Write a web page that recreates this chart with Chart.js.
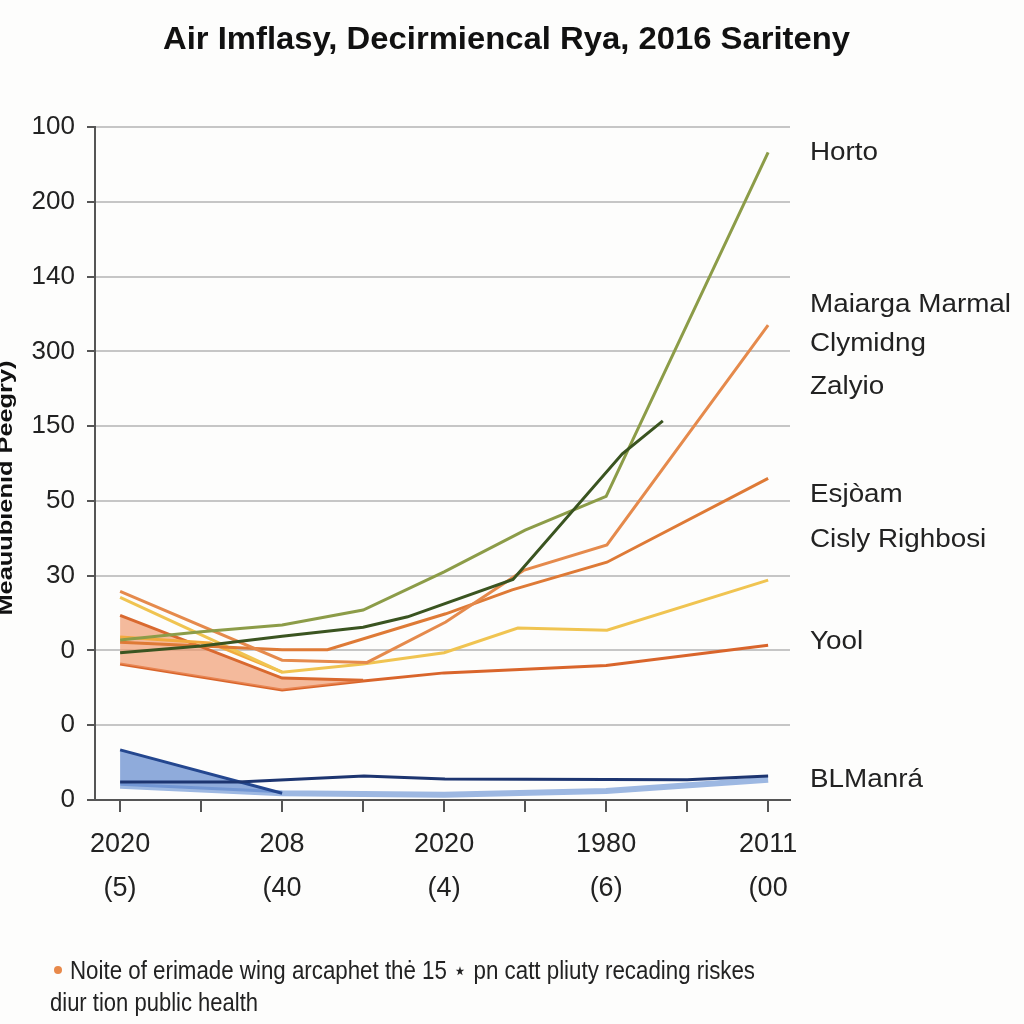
<!DOCTYPE html>
<html><head><meta charset="utf-8">
<script src="https://cdn.jsdelivr.net/npm/chart.js@4"></script>
<style>html,body{margin:0;padding:0;background:#fdfdfc;} canvas{display:block}</style>
</head><body>
<canvas id="c" width="1024" height="1024"></canvas>
<script>
const titleText = "Air Imflasy, Decirmiencal Rya, 2016 Sariteny";
const yAxisTitle = "Meauubienid Peegry)";
const yTickLabels = ["0","0","0","30","50","150","300","140","200","100"];
const xTickTop = ["2020","","208","","2020","","1980","","2011"];
const xTickBottom = ["(5)","","(40","","(4)","","(6)","","(00"];
const seriesNames = ["Horto","Maiarga Marmal","Clymidng","Zalyio","Esjòam","Cisly Righbosi","Yool","BLManrá"];
const nameLevels = [8.66,6.62,6.1,5.52,4.08,3.48,2.11,0.27];
const footLine1 = "Noite of erimade wing arcaphet thė 15 \u22c6 pn catt pliuty recading riskes";
const footLine2 = "diur tion public health";

const hortoX = [0,1,2,3,4,5,6,8];
const hortoY = [2.14,2.25,2.34,2.54,3.05,3.61,4.06,8.66];
const darkGreenX = [0,1,2,3,3.55,4.85,6.2,6.7];
const darkGreenY = [1.97,2.06,2.19,2.31,2.45,2.95,4.63,5.07];
const orangeAX = [0,2,3.05,4.02,4.98,6.01,8];
const orangeAY = [2.79,1.87,1.84,2.38,3.07,3.41,6.35];
const orangeBX = [0,1,2,2.56,4.02,4.84,6.01,8];
const orangeBY = [2.11,2.06,2.01,2.01,2.49,2.81,3.18,4.30];
const yellowX = [0,2,3,4,4.91,6.01,8];
const yellowY = [2.71,1.71,1.82,1.97,2.30,2.27,2.94];
const lightOrangeX = [0,1.11,2];
const lightOrangeY = [2.18,2.10,1.71];
const redUpperX = [0,2,3];
const redUpperY = [2.47,1.63,1.60];
const redLowerX = [0,2,3,4,6,8];
const redLowerY = [1.82,1.47,1.59,1.70,1.80,2.07];
const navyX = [0,1.46,3.01,4.01,7,8];
const navyY = [0.24,0.24,0.32,0.28,0.27,0.32];
const diagX = [0,2];
const diagY = [0.67,0.09];
const lightBlueX = [0,2,4,6,8];
const lightBlueY = [0.19,0.09,0.07,0.12,0.27];

const pts = (xs, ys) => xs.map((x, i) => ({x, y: ys[i]}));
const line = (xs, ys, color, w, extra) => Object.assign({
  data: pts(xs, ys), borderColor: color, borderWidth: w, pointRadius: 0,
  tension: 0, fill: false, backgroundColor: 'transparent'
}, extra || {});

const datasets = [
  line(darkGreenX, darkGreenY, '#3a5420', 3),
  line(hortoX, hortoY, '#8c9c48', 3),
  line(orangeAX, orangeAY, '#e58a4c', 3),
  line(orangeBX, orangeBY, '#de7a36', 3),
  line(yellowX, yellowY, '#f0c451', 3),
  line(lightOrangeX, lightOrangeY, '#f2aa3e', 3),
  line(redUpperX, redUpperY, '#d9692f', 3, {fill: {target: 7}, backgroundColor: 'rgba(240,150,105,0.65)'}),
  line(redLowerX, redLowerY, '#d9652b', 3),
  line(navyX, navyY, '#1d3570', 3),
  line(diagX, diagY, '#24478f', 3, {fill: {target: 10}, backgroundColor: 'rgba(95,135,205,0.7)'}),
  line(lightBlueX, lightBlueY, '#9db8e2', 6)
];

function fitText(ctx, text, x, y, width) {
  const w = ctx.measureText(text).width;
  ctx.save(); ctx.translate(x, y); ctx.scale(width / w, 1);
  ctx.fillText(text, 0, 0); ctx.restore();
}

const decor = {
  id: 'decor',
  afterDraw(chart) {
    const ctx = chart.ctx, ys = chart.scales.y;
    ctx.save();
    ctx.fillStyle = '#111';
    ctx.textAlign = 'left'; ctx.textBaseline = 'alphabetic';
    ctx.font = 'bold 32px "Liberation Sans", Arial, sans-serif';
    fitText(ctx, titleText, 163, 49, 687);
    ctx.fillStyle = '#222';
    ctx.font = '26px "Liberation Sans", Arial, sans-serif';
    ctx.textBaseline = 'middle';
    seriesNames.forEach((n, i) => {
      const w = ctx.measureText(n).width;
      ctx.save(); ctx.translate(810, ys.getPixelForValue(nameLevels[i])); ctx.scale(1.07, 1);
      ctx.fillText(n, 0, 0); ctx.restore();
    });
    ctx.save();
    ctx.translate(6, 488); ctx.rotate(-Math.PI / 2);
    ctx.font = 'bold 21px "Liberation Sans", Arial, sans-serif';
    ctx.fillStyle = '#111';
    const tw = ctx.measureText(yAxisTitle).width;
    ctx.scale(255 / tw, 1);
    ctx.textAlign = 'center'; ctx.fillText(yAxisTitle, 0, 0);
    ctx.restore();
    ctx.fillStyle = '#e8894a';
    ctx.beginPath(); ctx.arc(58, 970, 4, 0, Math.PI * 2); ctx.fill();
    ctx.fillStyle = '#222';
    ctx.textBaseline = 'alphabetic'; ctx.textAlign = 'left';
    ctx.font = '25px "Liberation Sans", Arial, sans-serif';
    fitText(ctx, footLine1, 70, 979, 685);
    fitText(ctx, footLine2, 50, 1011, 208);
    ctx.restore();
  }
};

new Chart(document.getElementById('c'), {
  type: 'line',
  data: { datasets },
  plugins: [decor],
  options: {
    responsive: false, animation: false, devicePixelRatio: 1,
    layout: { padding: { top: 127, right: 234, left: 0, bottom: 0 } },
    plugins: { legend: { display: false }, tooltip: { enabled: false } },
    scales: {
      x: {
        type: 'linear', min: -0.31, max: 8.27,
        afterBuildTicks: s => { s.ticks = xTickTop.map((_, i) => ({ value: i })); },
        afterFit: s => { s.height = 224; },
        grid: { drawOnChartArea: false, drawTicks: true, tickLength: 12, color: '#555', lineWidth: 2 },
        border: { color: '#555', width: 2 },
        ticks: {
          autoSkip: false, maxRotation: 0, padding: 11, color: '#222',
          font: { size: 27, family: '"Liberation Sans", Arial, sans-serif', lineHeight: 1.63 },
          callback: (v) => (xTickTop[v] ? [xTickTop[v], xTickBottom[v]] : '')
        }
      },
      y: {
        min: 0, max: 9,
        afterBuildTicks: s => { s.ticks = yTickLabels.map((_, i) => ({ value: i })); },
        afterFit: s => { s.width = 95; },
        grid: { color: '#c6c6c6', lineWidth: 2, tickLength: 8, tickColor: '#555' },
        border: { color: '#555', width: 2 },
        ticks: {
          padding: 12, color: '#222',
          font: { size: 26, family: '"Liberation Sans", Arial, sans-serif' },
          callback: (v) => yTickLabels[v]
        }
      }
    }
  }
});
</script>
</body></html>
